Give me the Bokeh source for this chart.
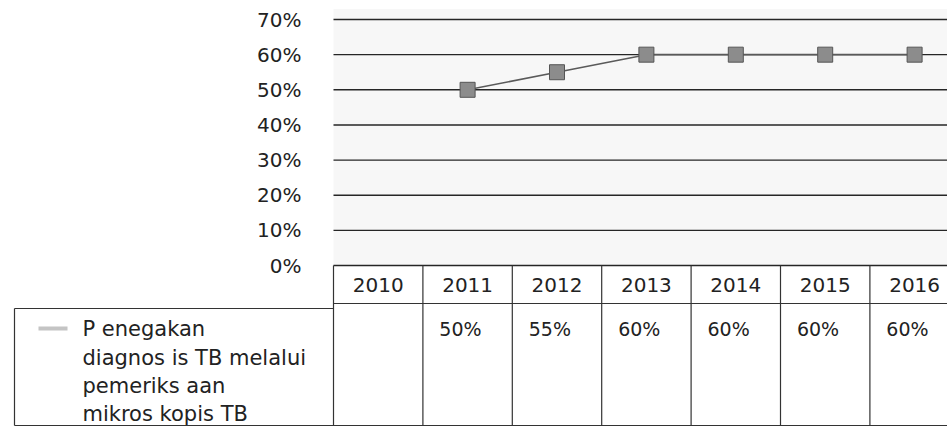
from bokeh.plotting import figure
from bokeh.models import Range1d, FixedTicker, NumeralTickFormatter, LinearAxis
from bokeh.core.properties import value
from bokeh.embed import file_html
from bokeh.resources import INLINE

# ---- data ----
years = ["2010", "2011", "2012", "2013", "2014", "2015", "2016"]
coverage = [None, 0.50, 0.55, 0.60, 0.60, 0.60, 0.60]
coverage_labels = ["", "50%", "55%", "60%", "60%", "60%", "60%"]
y_ticks = [0.0, 0.1, 0.2, 0.3, 0.4, 0.5, 0.6, 0.7]
series_lines = ["P enegakan", "diagnos is  TB  melalui", "pemeriks aan", "mikros kopis  TB"]

FONT = "DejaVu Sans"
TEXT = "#222222"
W, H = 947, 426
COL_W = 89.4          # pixels per year column
LEFT = 333            # pixel x where the chart area / table columns begin
ZERO_PX = 265         # pixel y of the 0% line
UNIT_PX = 351.4       # pixels per 100 %

x0 = -0.5 - LEFT / COL_W
x1 = x0 + W / COL_W
y1 = (ZERO_PX) / UNIT_PX
y0 = y1 - H / UNIT_PX


def px_x(px):
    return x0 + px / COL_W


def px_y(py):
    return (ZERO_PX - py) / UNIT_PX


p = figure(width=W, height=H, output_backend="svg", toolbar_location=None,
           x_range=Range1d(x0, x1), y_range=Range1d(y0, y1),
           min_border=0, x_axis_location=None, y_axis_location=None)
p.outline_line_color = None
p.xgrid.visible = False
p.ygrid.visible = False

n = len(years)
first, last = -0.5, n - 0.5

# chart area
p.quad(left=[first], right=[last], bottom=[0], top=[y_ticks[-1] + 0.03],
       fill_color="#f7f7f7", line_color=None)
p.segment(x0=[first] * len(y_ticks), y0=y_ticks, x1=[last] * len(y_ticks), y1=y_ticks,
          line_color="#262626", line_width=1.4)

# percentage axis sitting at the left edge of the chart area
yaxis = LinearAxis(fixed_location=first, ticker=FixedTicker(ticks=y_ticks),
                   formatter=NumeralTickFormatter(format="0%"))
yaxis.axis_line_color = None
yaxis.major_tick_line_color = None
yaxis.minor_tick_line_color = None
yaxis.major_label_standoff = 26
yaxis.major_label_text_font = FONT
yaxis.major_label_text_font_size = "20px"
yaxis.major_label_text_color = TEXT
p.add_layout(yaxis, "left")

# series
xs = [i for i, v in enumerate(coverage) if v is not None]
ys = [v for v in coverage if v is not None]
p.line(xs, ys, line_color="#5a5a5a", line_width=1.6)
p.scatter(xs, ys, marker="square", size=15, fill_color="#8c8c8c",
          line_color="#555555", line_width=1)

# ---- data table ----
line_col = "#333333"
header_bottom = px_y(303)
table_bottom = px_y(425)
box_top = px_y(308)
box_left = px_x(14)

col_edges = [i - 0.5 for i in range(n + 1)]
p.segment(x0=col_edges, y0=[0] * len(col_edges), x1=col_edges,
          y1=[table_bottom] * len(col_edges), line_color=line_col, line_width=1.2)
p.segment(x0=[first, box_left, box_left, box_left],
          y0=[header_bottom, table_bottom, box_top, box_top],
          x1=[last, last, first, box_left],
          y1=[header_bottom, table_bottom, box_top, table_bottom],
          line_color=line_col, line_width=1.2)

idx = list(range(n))
p.text(idx, [px_y(284)] * n, text=years, text_align="center", text_baseline="middle",
       text_font=value(FONT), text_font_size="20px", text_color=TEXT)
p.text([i - 0.08 for i in idx], [px_y(328)] * n, text=coverage_labels,
       text_align="center", text_baseline="middle",
       text_font=value(FONT), text_font_size="19px", text_color=TEXT)

# legend key and series name
p.segment(x0=[px_x(38)], y0=[px_y(328)], x1=[px_x(67)], y1=[px_y(328)],
          line_color="#c4c4c4", line_width=4)
p.text([px_x(82)] * len(series_lines), [px_y(v) for v in (328, 357, 385, 413)],
       text=series_lines, text_align="left", text_baseline="middle",
       text_font=value(FONT), text_font_size="21px", text_color=TEXT)

open("out.html", "w").write(file_html(p, INLINE))
